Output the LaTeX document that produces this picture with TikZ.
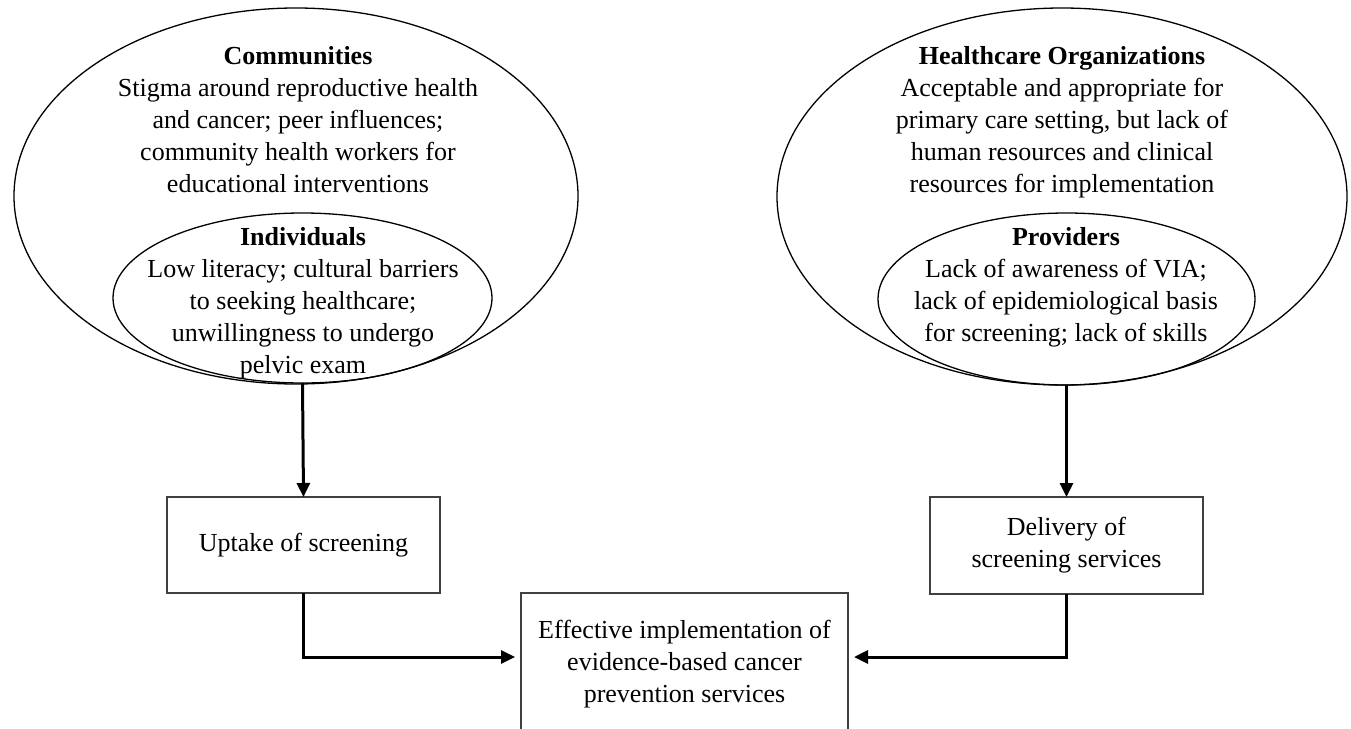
\documentclass[tikz,border=0pt]{standalone}
\usepackage{fontspec}
\setmainfont{Liberation Serif}
\usetikzlibrary{shapes.geometric,arrows.meta,calc}
\begin{document}
\begin{tikzpicture}[x=1pt,y=-1pt,
  every node/.style={font=\fontsize{26}{32}\selectfont},
  ring/.style={draw, ellipse, line width=1.3pt, inner sep=0pt, outer sep=0pt},
  txt/.style={align=center, inner sep=0pt},
  stage/.style={draw=black!75, line width=1.6pt, align=center, inner sep=0pt, outer sep=0pt},
  flow/.style={line width=3pt, -{Triangle[length=14pt,width=13pt]}}]
\useasboundingbox (0,0) rectangle (1351,728);

% left ellipses
\node[ring, minimum width=564pt, minimum height=376pt] (comm) at (296,196) {};
\node[ring, minimum width=379pt, minimum height=170pt] (indiv) at (302.5,298) {};
\node[txt] (commtxt) at (298,120) {\textbf{Communities}\\Stigma around reproductive health\\and cancer; peer influences;\\community health workers for\\educational interventions};
\node[txt] (indivtxt) at (303,303) {\textbf{Individuals}\\Low literacy; cultural barriers\\to seeking healthcare;\\unwillingness to undergo\\pelvic exam};

% right ellipses
\node[ring, minimum width=570pt, minimum height=377pt] (org) at (1062,196.5) {};
\node[ring, minimum width=377pt, minimum height=172pt] (prov) at (1066.5,299) {};
\node[txt] (orgtxt) at (1062,122.5) {\textbf{Healthcare Organizations}\\Acceptable and appropriate for\\primary care setting, but lack of\\human resources and clinical\\resources for implementation};
\node[txt] (provtxt) at (1066,287) {\textbf{Providers}\\Lack of awareness of VIA;\\lack of epidemiological basis\\for screening; lack of skills};

% boxes
\node[stage, minimum width=273pt, minimum height=96pt] (uptake) at (303.5,545) {Uptake of screening};
\node[stage, minimum width=273pt, minimum height=97pt] (deliv) at (1066.5,545.5) {Delivery of\\screening services};
\node[stage, minimum width=327pt, minimum height=142pt] (eff) at (684.5,664) {Effective implementation of\\evidence-based cancer\\prevention services};

% connectors
\draw[flow] (indiv.south) -- (uptake.north);
\draw[flow] (prov.south) -- (deliv.north);
\draw[flow] (uptake.south) |- ([xshift=-6pt,yshift=7pt]eff.west);
\draw[flow] (deliv.south) |- ([xshift=6pt,yshift=7pt]eff.east);
\end{tikzpicture}
\end{document}
